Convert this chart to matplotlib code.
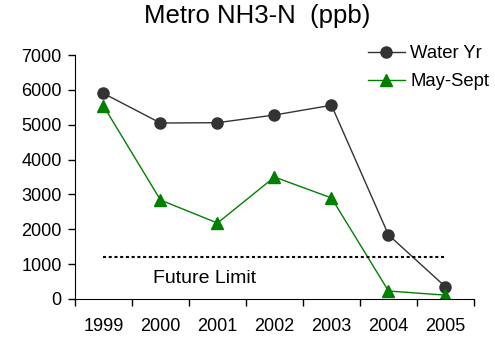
import numpy as np
import matplotlib.pyplot as plt

plt.rcParams['font.family'] = ['Liberation Sans', 'DejaVu Sans']

years = ['1999', '2000', '2001', '2002', '2003', '2004', '2005']
water_yr = [5900, 5050, 5060, 5280, 5560, 1840, 350]
may_sept = [5540, 2840, 2180, 3500, 2900, 230, 110]
future_limit = 1200

fig = plt.figure(figsize=(4.95, 3.4), dpi=100)
ax = fig.add_axes([0.1515, 0.1206, 0.806, 0.7174])

x = np.arange(len(years))
ax.plot(x, water_yr, color='#333333', marker='o', markersize=8, linewidth=1, label='Water Yr')
ax.plot(x, may_sept, color='#008000', marker='^', markersize=8.5, linewidth=1,
        markerfacecolor='#008000', label='May-Sept')
ax.plot([0, len(years) - 1], [future_limit, future_limit], color='black',
        linestyle=(0, (1.45, 1.3)), linewidth=1.5)
ax.text(1.78, 600, 'Future Limit', ha='center', va='center', fontsize=14)

ax.set_xlim(-0.5, len(years) - 0.5)
ax.set_ylim(0, 7000)
ax.set_yticks(range(0, 7001, 1000))
ax.set_xticks(x)
ax.set_xticklabels(years)
ax.set_xticks(np.arange(-0.5, len(years)), minor=True)
ax.tick_params(axis='x', which='major', length=0, pad=13.5, labelsize=13)
ax.tick_params(axis='x', which='minor', length=5, direction='out', width=1)
ax.tick_params(axis='y', length=5, direction='out', width=1, labelsize=13, pad=4.5)
for s in ['top', 'right']:
    ax.spines[s].set_visible(False)

fig.text(257 / 495, 1 - 23 / 340, 'Metro NH3-N  (ppb)', ha='center', va='baseline', fontsize=18.5)
fig.legend(handles=ax.get_lines()[:2], loc='upper left', bbox_to_anchor=(368 / 495, 1 - 45 / 340),
           frameon=False, fontsize=13.3, borderpad=0, borderaxespad=0,
           handlelength=2.0, handletextpad=0.3, labelspacing=0.62)

fig.savefig('out.png', dpi=100)
